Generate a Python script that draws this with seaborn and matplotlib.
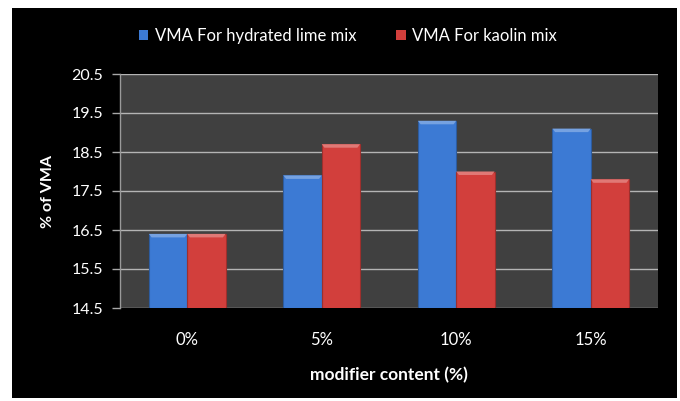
import matplotlib
matplotlib.use("Agg")
import matplotlib.pyplot as plt
from matplotlib.patches import Rectangle, Polygon
import matplotlib.colors as mcolors
import seaborn as sns
import pandas as pd

categories = ["0%", "5%", "10%", "15%"]
lime_vma = [16.4, 17.9, 19.3, 19.1]
kaolin_vma = [16.4, 18.7, 18.0, 17.8]
series_names = ["VMA For hydrated lime mix", "VMA For kaolin mix"]
y_ticks = [14.5, 15.5, 16.5, 17.5, 18.5, 19.5, 20.5]

df = pd.DataFrame({
    "content": categories * 2,
    "vma": lime_vma + kaolin_vma,
    "series": [series_names[0]] * len(categories) + [series_names[1]] * len(categories),
})

sns.set_theme(style="dark")
plt.rcParams["font.family"] = ["Lato", "DejaVu Sans"]

fig = plt.figure(figsize=(6.8, 4.01), dpi=100, facecolor="white")
# black panel behind the chart, leaving a thin white frame
fig.patches.append(Rectangle((12 / 680, 3 / 401), 665 / 680, 390 / 401,
                             transform=fig.transFigure, facecolor="black",
                             edgecolor="none", zorder=-10))

ax = fig.add_axes([120 / 680, 1 - 308 / 401, 538 / 680, 234 / 401])
ax.set_zorder(1)
ax.set_facecolor("#404040")

palette = {series_names[0]: "#3c7ad4", series_names[1]: "#d23f3c"}
sns.barplot(data=df, x="content", y="vma", hue="series", palette=palette,
            width=0.57, gap=0, saturation=1, ax=ax, zorder=3,
            edgecolor="none", linewidth=0)

handles, labels = ax.get_legend_handles_labels()
if ax.get_legend() is not None:
    ax.get_legend().remove()

ax.set_ylim(14.5, 20.5)

# bevelled look: darker rim and a light cap on each bar
cap = 0.09
for bar in list(ax.patches):
    x, w = bar.get_x(), bar.get_width()
    y0, h = bar.get_y(), bar.get_height()
    if w <= 0 or h <= 0:
        continue
    base = mcolors.to_rgb(bar.get_facecolor())
    dark = tuple(c * 0.75 for c in base)
    light = tuple(min(1, c + (1 - c) * 0.3) for c in base)
    top = y0 + h
    ax.add_patch(Polygon([(x, top), (x + w, top), (x + w * 0.93, top - cap),
                          (x + w * 0.07, top - cap)], closed=True,
                         facecolor=light, edgecolor="none", zorder=5))
    ax.add_patch(Rectangle((x, y0), w, h, facecolor="none", edgecolor=dark,
                           linewidth=0.8, zorder=4))

ax.set_yticks(y_ticks)
ax.set_yticklabels([f"{t:.1f}" for t in y_ticks])
ax.grid(axis="y", color="#b4b4b4", linewidth=1.0, zorder=1)
ax.grid(axis="x", visible=False)
for s in ax.spines.values():
    s.set_visible(False)
ax.spines["left"].set_visible(True)
ax.spines["left"].set_color("#9a9a9a")
ax.spines["left"].set_linewidth(1.0)

ax.tick_params(axis="y", colors="#a8a8a8", length=6, width=1, labelcolor="white",
               labelsize=11.5, pad=6, left=True)
ax.tick_params(axis="x", length=0, labelcolor="white", labelsize=12, pad=17)

ax.set_xlabel("modifier content (%)", color="white", fontsize=12.5,
              fontweight="bold", labelpad=14)
ax.set_ylabel("% of VMA", color="white", fontsize=11.5, fontweight="bold",
              labelpad=12)

leg = fig.legend(handles, labels, loc="center", bbox_to_anchor=(348 / 680, 1 - 36 / 401),
                 ncol=2, frameon=False, fontsize=12, handlelength=0.55,
                 handleheight=0.55, handletextpad=0.4, columnspacing=2.4)
for t in leg.get_texts():
    t.set_color("white")

fig.savefig("out.png", dpi=100, facecolor="white")
